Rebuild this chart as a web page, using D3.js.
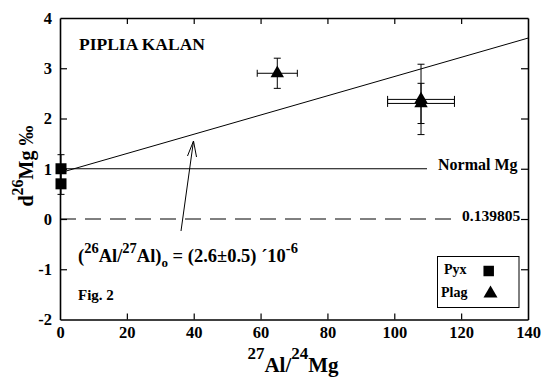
<!DOCTYPE html>
<html><head><meta charset="utf-8">
<script src="https://cdn.jsdelivr.net/npm/d3@7/dist/d3.min.js"></script>
<style>
body{margin:0;background:#fff;}
svg text{font-family:"Liberation Serif","Times New Roman",Times,"Nimbus Roman","DejaVu Serif",serif !important;font-weight:bold;fill:#000;}
</style></head>
<body><svg id="c" width="541" height="379"></svg>
<script>
// ---- data ----
const xTicks = [0, 20, 40, 60, 80, 100, 120, 140];
const yTicks = [-2, -1, 0, 1, 2, 3, 4];
const pyxX = [0.3, 0.3];
const pyxY = [1.0, 0.7];
const pyxYErr = [0.28, 0.21];
const plagX = [65, 108, 108];
const plagY = [2.9, 2.38, 2.3];
const plagXErr = [6, 10, 10];
const plagYErr = [0.3, 0.7, 0.4];
const fitX = [0, 140];
const fitY = [0.92, 3.6];
const normalY = 1;
const normalLabel = "Normal Mg";
const zeroY = 0;
const zeroLabel = "0.139805";
const legendLabels = ["Pyx", "Plag"];

const svg = d3.select("#c");
const x = d3.scaleLinear().domain([0, 140]).range([60, 528]);
const y = d3.scaleLinear().domain([-2, 4]).range([319.5, 18]);

// reference lines
svg.append("line").attr("x1", x(0)).attr("x2", 427).attr("y1", y(normalY)).attr("y2", y(normalY))
  .attr("stroke", "#000").attr("stroke-width", 1);
svg.append("line").attr("x1", x(0)).attr("x2", 451).attr("y1", y(zeroY)).attr("y2", y(zeroY))
  .attr("stroke", "#000").attr("stroke-width", 1).attr("stroke-dasharray", "16,9");
// fit line
svg.append("line").attr("x1", x(fitX[0])).attr("x2", x(fitX[1])).attr("y1", y(fitY[0])).attr("y2", y(fitY[1]))
  .attr("stroke", "#000").attr("stroke-width", 1);

// axes frame
const fmt = d => String(d);
const gB = svg.append("g").attr("transform", `translate(0,${y(-2)})`)
  .call(d3.axisBottom(x).tickValues(xTicks).tickFormat(fmt).tickSizeInner(-6).tickSizeOuter(0).tickPadding(6.5));
const gT = svg.append("g").attr("transform", `translate(0,${y(4)})`)
  .call(d3.axisTop(x).tickValues(xTicks.slice(1, -1)).tickSizeInner(-6).tickSizeOuter(0).tickFormat(""));
const gL = svg.append("g").attr("transform", `translate(${x(0)},0)`)
  .call(d3.axisLeft(y).tickValues(yTicks).tickFormat(fmt).tickSizeInner(-7).tickSizeOuter(0).tickPadding(8));
const gR = svg.append("g").attr("transform", `translate(${x(140)},0)`)
  .call(d3.axisRight(y).tickValues(yTicks.slice(1, -1)).tickSizeInner(-7).tickSizeOuter(0).tickFormat(""));
[gB, gT, gL, gR].forEach(g => {
  g.attr("font-family", null);
  g.select(".domain").attr("stroke", "#000").attr("stroke-width", 1.6);
  g.selectAll(".tick line").attr("stroke", "#000").attr("stroke-width", 1.2);
  g.selectAll("text").style("font-size", "16.5px").attr("fill", "#000");
});
gB.selectAll(".tick line").filter(d => d === 0 || d === 140).remove();
gL.selectAll(".tick line").filter(d => d === -2 || d === 4).remove();

// error bars helper
function errbar(cx, cy, ex, ey) {
  const g = svg.append("g").attr("stroke", "#000").attr("stroke-width", 1);
  if (ey) {
    g.append("line").attr("x1", x(cx)).attr("x2", x(cx)).attr("y1", y(cy - ey)).attr("y2", y(cy + ey));
    [cy - ey, cy + ey].forEach(v => g.append("line").attr("x1", x(cx) - 3.5).attr("x2", x(cx) + 3.5).attr("y1", y(v)).attr("y2", y(v)));
  }
  if (ex) {
    g.append("line").attr("x1", x(cx - ex)).attr("x2", x(cx + ex)).attr("y1", y(cy)).attr("y2", y(cy));
    [cx - ex, cx + ex].forEach(v => g.append("line").attr("x1", x(v)).attr("x2", x(v)).attr("y1", y(cy) - 3.5).attr("y2", y(cy) + 3.5));
  }
}
pyxX.forEach((d, i) => errbar(d, pyxY[i], 0, pyxYErr[i]));
plagX.forEach((d, i) => errbar(d, plagY[i], plagXErr[i], plagYErr[i]));

const sq = d3.symbol().type(d3.symbolSquare).size(121);
const tri = d3.symbol().type(d3.symbolTriangle).size(78);
svg.selectAll(".pyx").data(pyxX).join("path").attr("d", sq)
  .attr("transform", (d, i) => `translate(${x(d)},${y(pyxY[i])})`).attr("fill", "#000");
svg.selectAll(".plag").data(plagX).join("path").attr("d", tri)
  .attr("transform", (d, i) => `translate(${x(d)},${y(plagY[i])})`).attr("fill", "#000");

// labels
svg.append("text").attr("x", 438).attr("y", 169.5).style("font-size", "16px").text(normalLabel);
svg.append("text").attr("x", 462).attr("y", 221).style("font-size", "15.5px").text(zeroLabel);
svg.append("text").attr("x", 79).attr("y", 50).style("font-size", "17.5px").text("PIPLIA KALAN");
svg.append("text").attr("x", 78).attr("y", 300).style("font-size", "15px").text("Fig. 2");

// annotation
const ann = svg.append("text").attr("x", 78).attr("y", 262).style("font-size", "18.5px");
ann.append("tspan").text("(");
ann.append("tspan").attr("dy", -9).style("font-size", "14.5px").text("26");
ann.append("tspan").attr("dy", 9).text("Al/");
ann.append("tspan").attr("dy", -9).style("font-size", "14.5px").text("27");
ann.append("tspan").attr("dy", 9).text("Al)");
ann.append("tspan").attr("dy", 5).style("font-size", "13px").text("o");
ann.append("tspan").attr("dy", -5).text(" = (2.6\u00B10.5) \u00B410");
ann.append("tspan").attr("dy", -9).style("font-size", "14.5px").text("-6");

// arrow
svg.append("line").attr("x1", 181).attr("y1", 231).attr("x2", 193.5).attr("y2", 141).attr("stroke", "#000").attr("stroke-width", 1);
svg.append("path").attr("d", "M187.5,156 L193.5,141 L196.5,157").attr("fill", "none").attr("stroke", "#000").attr("stroke-width", 1);

// axis titles
const xl = svg.append("text").attr("x", 293).attr("y", 372).attr("text-anchor", "middle").style("font-size", "21px");
xl.append("tspan").attr("dy", -13).style("font-size", "17px").text("27");
xl.append("tspan").attr("dy", 13).text("Al/");
xl.append("tspan").attr("dy", -13).style("font-size", "17px").text("24");
xl.append("tspan").attr("dy", 13).text("Mg");

const yl = svg.append("text").attr("transform", "translate(33,166) rotate(-90)").attr("text-anchor", "middle").style("font-size", "20px");
yl.append("tspan").text("d");
yl.append("tspan").attr("dy", -10).style("font-size", "16px").text("26");
yl.append("tspan").attr("dy", 10).text("Mg \u2030");

// legend
svg.append("rect").attr("x", 437.5).attr("y", 256.5).attr("width", 81.5).attr("height", 51)
  .attr("fill", "#fff").attr("stroke", "#000").attr("stroke-width", 1);
svg.append("text").attr("x", 444).attr("y", 274).style("font-size", "14px").text(legendLabels[0]);
svg.append("text").attr("x", 441).attr("y", 297).style("font-size", "14px").text(legendLabels[1]);
svg.append("path").attr("d", d3.symbol().type(d3.symbolSquare).size(110)).attr("transform", "translate(488.7,271)");
svg.append("path").attr("d", d3.symbol().type(d3.symbolTriangle).size(85)).attr("transform", "translate(490.5,293.5)");
</script></body></html>
